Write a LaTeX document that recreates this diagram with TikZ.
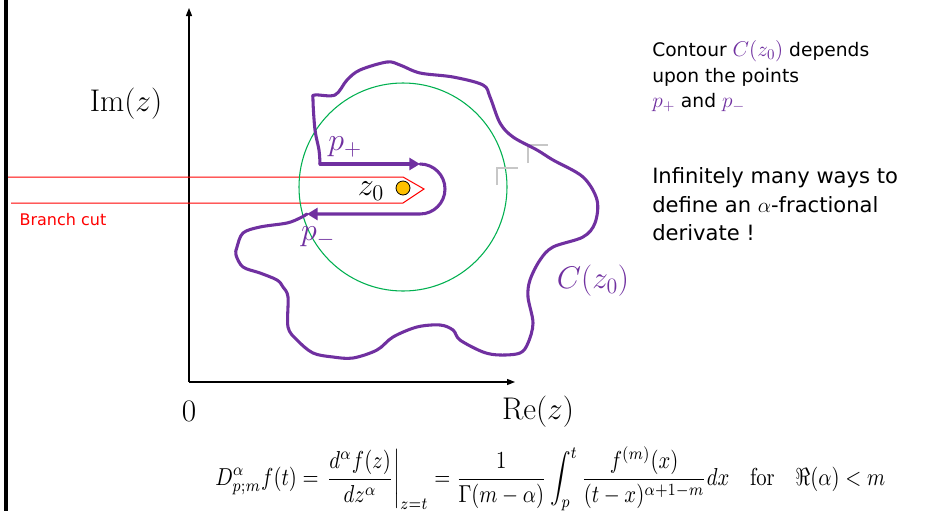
\RequirePackage{fix-cm}
\documentclass[tikz,border=0pt]{standalone}
\usepackage{amsmath}
\usepackage{graphicx}
\usepackage[no-math]{fontspec}
\newfontfamily\tah{DejaVu Sans}
\usetikzlibrary{arrows.meta}
\definecolor{cpurple}{HTML}{7030A0}
\definecolor{cgreen}{HTML}{00B050}
\definecolor{corange}{HTML}{FFC000}
\definecolor{cred}{HTML}{FF0000}
\tikzset{
  axis/.style={line width=0.9pt, -{Triangle[length=6pt,width=4.5pt]}},
  cutline/.style={cred, line width=0.75pt},
  contour/.style={cpurple, line width=2.3pt, line join=round, line cap=round},
  ctip/.style={-{Triangle[length=8pt,width=9pt]}},
  mathlbl/.style={inner sep=0pt, font=\fontsize{23.5}{27}\selectfont},
  purplelbl/.style={inner sep=0pt, text=cpurple, font=\fontsize{24}{28}\selectfont},
  smalltxt/.style={inner sep=0pt, anchor=base west, font=\tah\fontsize{14}{17}\selectfont},
  bigtxt/.style={inner sep=0pt, anchor=base west, font=\tah\fontsize{15.8}{19}\selectfont},
  artifact/.style={black!22, line width=1.4pt}
}
\newcommand{\pmath}[1]{\textcolor{cpurple}{\fontsize{16}{17}\selectfont$#1$}}
\begin{document}
\begin{tikzpicture}[x=0.75pt,y=-0.75pt]
\useasboundingbox (0,0) rectangle (952,511);
\fill[white] (0,0) rectangle (952,511);
% left border
\draw[line width=2.3pt] (6,0) -- (6,511);
% axes
\coordinate (origin) at (189,382);
\coordinate (ytip) at (189,8);
\coordinate (xtip) at (515,382);
\draw[axis] (origin) -- (ytip);
\draw[axis] (origin) -- (xtip);
% branch cut
\coordinate (bcA) at (8,177);
\coordinate (bcB) at (403,177);
\coordinate (bcT) at (424,189);
\coordinate (bcC) at (403,203);
\coordinate (bcD) at (11,203);
\draw[cutline] (bcA) -- (bcB) -- (bcT) -- (bcC) -- (bcD);
% green circle
\node[draw=cgreen, line width=0.8pt, circle, minimum size=208*0.75pt, inner sep=0] (disk) at (403,187) {};
% gray marks
\draw[artifact] (497,185) -- (497,168) -- (518,168);
\draw[artifact] (528,163) -- (528,145) -- (548,145);
% contour
\coordinate (pp) at (320,164);
\coordinate (ppe) at (420,164);
\coordinate (pm) at (307,214);
\draw[contour, ctip] (pp) -- (ppe);
\draw[contour, ctip] (ppe) arc[start angle=-90, end angle=90, radius=25] -- (pm);
\draw[contour] plot[smooth, tension=0.55] coordinates {
(307,214) (300,218) (287,223) (260,227) (243,233) (237,247) (236,255) (243,267)
(260,273) (277,280) (283,287) (288,297) (288,327) (297,340) (313,353) (333,357)
(353,358) (377,350) (393,337) (417,327) (440,325) (453,330) (460,340) (483,352)
(500,355) (520,353) (528,343) (533,323) (528,297) (530,280) (540,260) (553,247)
(583,237) (595,223) (597,200) (583,177) (553,160) (537,150) (513,137) (500,123)
(490,97) (483,85) (453,77) (420,73) (400,65) (387,62) (360,70) (347,80) (335,95)
(315,95) (313,100) (315,130) (319,150) (320,164)};
% singular point
\node[circle, fill=corange, draw=black, line width=0.6pt, minimum size=14*0.75pt, inner sep=0] (z0dot) at (403,188) {};
% labels
\node[mathlbl] (imlbl) at (126,104) {$\mathrm{Im}(z)$};
\node[mathlbl] (zerolbl) at (189,411) {$0$};
\node[mathlbl] (relbl) at (538,412) {$\mathrm{Re}(z)$};
\node[inner sep=0pt, font=\fontsize{24}{28}\selectfont] (z0lbl) at (371,191) {$z_0$};
\node[purplelbl] (pplbl) at (345,147) {$p_+$};
\node[purplelbl] (pmlbl) at (318,237) {$p_-$};
\node[purplelbl, font=\fontsize{23.5}{27}\selectfont] (clbl) at (593,281) {$C(z_0)$};
\node[inner sep=0pt, text=cred, font=\tah\fontsize{12}{14}\selectfont] (bclbl) at (63,220) {Branch cut};
% right text
\node[smalltxt] (t1) at (652,56) {Contour \pmath{C(z_0)} depends};
\node[smalltxt] (t2) at (652,82) {upon the points};
\node[smalltxt] (t3) at (652,107) {\pmath{p_+} and \pmath{p_-}};
\node[bigtxt] (t4) at (652,183) {Infinitely many ways to};
\node[bigtxt] (t5) at (652,212) {define an $\alpha$-fractional};
\node[bigtxt] (t6) at (652,240) {derivate !};
% formula
\node[anchor=west, inner sep=0pt] (formula) at (215,479) {\resizebox*{502.5pt}{48pt}{$\displaystyle D^{\alpha}_{p;m}f(t)=\left.\frac{d^{\alpha}f(z)}{dz^{\alpha}}\right|_{z=t}=\frac{1}{\Gamma(m-\alpha)}\int_p^t\frac{f^{(m)}(x)}{(t-x)^{\alpha+1-m}}dx\quad\text{for}\quad\Re(\alpha)<m$}};
\end{tikzpicture}
\end{document}
